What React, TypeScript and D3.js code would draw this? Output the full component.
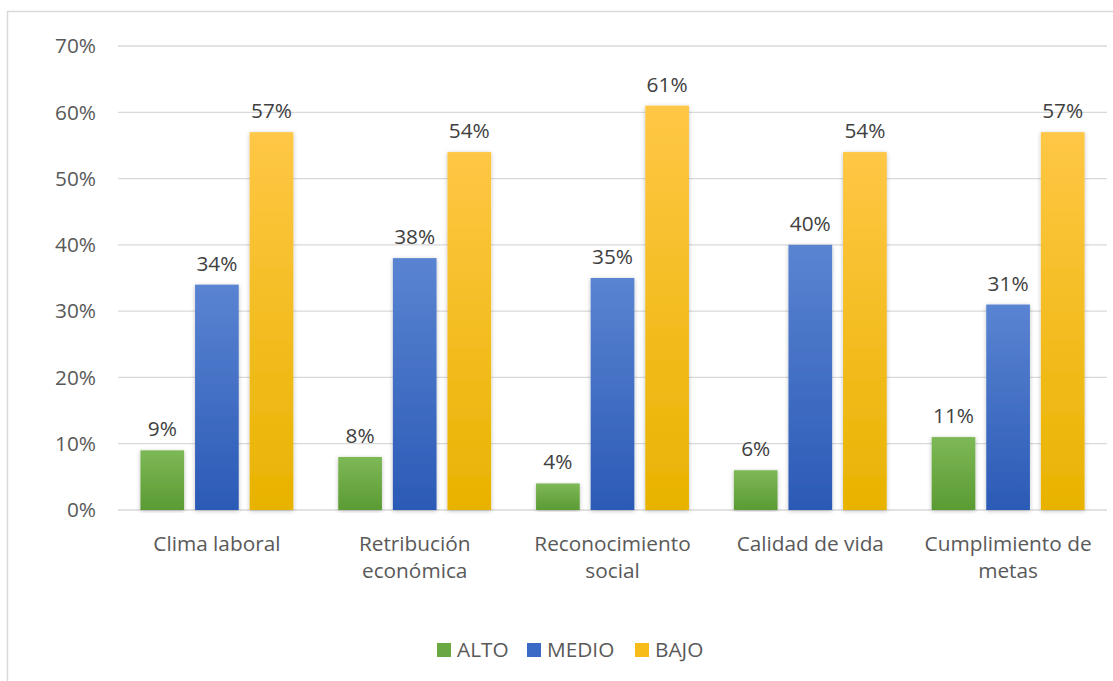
import * as d3 from "d3";
import React from "react";

const categories = [
  ["Clima laboral"],
  ["Retribución", "económica"],
  ["Reconocimiento", "social"],
  ["Calidad de vida"],
  ["Cumplimiento de", "metas"],
];
const seriesNames = ["ALTO", "MEDIO", "BAJO"];
const alto = [9, 8, 4, 6, 11];
const medio = [34, 38, 35, 40, 31];
const bajo = [57, 54, 61, 54, 57];
const yTicks = [0, 10, 20, 30, 40, 50, 60, 70];

const gradients = [
  { id: "gAlto", top: "#7db856", bottom: "#5b9b33" },
  { id: "gMedio", top: "#5a84d2", bottom: "#2b5ab6" },
  { id: "gBajo", top: "#ffc745", bottom: "#e8b300" },
];
const legendColors = ["#6aa842", "#3a69c6", "#f7bc18"];

export default function App() {
  const width = 1113;
  const height = 681;
  const marginLeft = 118;
  const plotRight = 1107;
  const y0 = 510;
  const yTop = 46;
  const font = "'Open Sans', 'Noto Sans', sans-serif";
  const text = "#595959";
  const fs = 20.8;

  const x = d3
    .scaleBand<number>()
    .domain(d3.range(categories.length))
    .range([marginLeft, plotRight])
    .paddingInner(0.227)
    .paddingOuter(0.1135);
  const xs = d3
    .scaleBand<number>()
    .domain([0, 1, 2])
    .range([0, x.bandwidth()])
    .paddingInner(0.2);
  const y = d3.scaleLinear().domain([0, 70]).range([y0, yTop]);

  const series = [alto, medio, bajo];

  return (
    <svg
      width={width}
      height={height}
      style={{ position: "absolute", left: 0, top: 0, background: "#fff" }}
      fontFamily={font}
    >
      <defs>
        {gradients.map((g) => (
          <linearGradient key={g.id} id={g.id} x1="0" y1="0" x2="0" y2="1">
            <stop offset="0%" stopColor={g.top} />
            <stop offset="100%" stopColor={g.bottom} />
          </linearGradient>
        ))}
        <filter id="shadow" x="-20%" y="-5%" width="140%" height="110%">
          <feDropShadow dx="0" dy="1" stdDeviation="2" floodColor="#000" floodOpacity="0.25" />
        </filter>
      </defs>
      <rect x={0} y={0} width={width} height={height} fill="#fff" />
      <line x1={7.5} x2={7.5} y1={11} y2={height} stroke="#d9d9d9" strokeWidth={1.5} />
      <line x1={7} x2={width} y1={11.5} y2={11.5} stroke="#d9d9d9" strokeWidth={1.5} />

      {yTicks.map((t) => (
        <g key={t}>
          <line x1={marginLeft} x2={plotRight} y1={y(t)} y2={y(t)} stroke="#d9d9d9" strokeWidth={1.3} />
          <text x={96} y={y(t)} dy="0.35em" textAnchor="end" fontSize={fs} fill={text}>
            {t}%
          </text>
        </g>
      ))}

      {series.map((vals, si) =>
        vals.map((v, ci) => {
          const bx = (x(ci) ?? 0) + (xs(si) ?? 0);
          return (
            <g key={`${si}-${ci}`}>
              <rect
                x={bx}
                y={y(v)}
                width={xs.bandwidth()}
                height={y0 - y(v)}
                fill={`url(#${gradients[si].id})`}
                filter="url(#shadow)"
              />
              <text
                x={bx + xs.bandwidth() / 2}
                y={y(v) - 14}
                textAnchor="middle"
                fontSize={fs}
                fill="#404040"
              >
                {v}%
              </text>
            </g>
          );
        })
      )}

      {categories.map((lines, ci) => (
        <text
          key={ci}
          x={(x(ci) ?? 0) + x.bandwidth() / 2}
          y={551}
          textAnchor="middle"
          fontSize={fs}
          fill={text}
        >
          {lines.map((l, li) => (
            <tspan key={li} x={(x(ci) ?? 0) + x.bandwidth() / 2} dy={li === 0 ? 0 : 27}>
              {l}
            </tspan>
          ))}
        </text>
      ))}

      {seriesNames.map((name, i) => {
        const lx = [437, 527, 635][i];
        return (
          <g key={name}>
            <rect x={lx} y={643} width={14} height={14} fill={legendColors[i]} />
            <text x={lx + 20} y={650} dy="0.35em" fontSize={fs} fill={text}>
              {name}
            </text>
          </g>
        );
      })}
    </svg>
  );
}
